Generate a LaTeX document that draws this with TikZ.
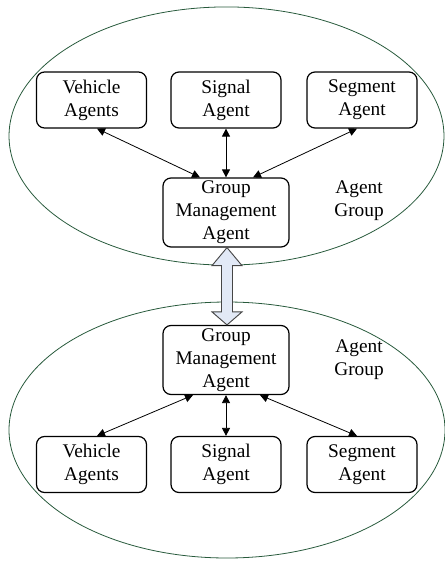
\documentclass[tikz,border=0pt]{standalone}
\usepackage{fontspec}
\setmainfont{Liberation Serif}
\usetikzlibrary{arrows.meta,calc}
\definecolor{groupline}{RGB}{40,90,60}
\definecolor{linkfill}{RGB}{226,233,246}
\definecolor{linkline}{RGB}{70,70,70}
\begin{document}
\begin{tikzpicture}[x=0.75pt,y=-0.75pt,
  agentbox/.style={draw=black,line width=0.9pt,rounded corners=6pt,fill=white,
    minimum width=82.5pt,minimum height=42pt,inner sep=0pt,align=center,
    font=\fontsize{14.5}{17.2}\selectfont},
  mgrbox/.style={agentbox,minimum width=94.5pt,minimum height=51.75pt},
  grouplabel/.style={align=center,inner sep=0pt,font=\fontsize{14.5}{17.2}\selectfont},
  groupring/.style={draw=groupline,line width=0.6pt},
  link/.style={line width=0.6pt,{Triangle[length=6pt,width=6pt]}-{Triangle[length=6pt,width=6pt]}}]
\useasboundingbox (0,0) rectangle (444,561);

% the two agent groups
\draw[groupring] (226.5,136) ellipse [x radius=163.1pt, y radius=96.8pt];
\draw[groupring] (227,430) ellipse [x radius=163.5pt, y radius=96pt];

% upper group
\node[agentbox] (vt) at (91.5,100) {Vehicle\\Agents};
\node[agentbox] (gt) at (226,100) {Signal\\Agent};
\node[agentbox] (st) at (362,100) {Segment\\Agent};
\node[mgrbox] (ma) at (226,212.5) {Group\\Management\\Agent};
\node[grouplabel] (la) at (359,201) {Agent\\Group};

% lower group
\node[mgrbox] (mb) at (226,360) {Group\\Management\\Agent};
\node[grouplabel] (lb) at (359,360) {Agent\\Group};
\node[agentbox] (vb) at (91.5,464.5) {Vehicle\\Agents};
\node[agentbox] (gb) at (226,464.5) {Signal\\Agent};
\node[agentbox] (sb) at (362,464.5) {Segment\\Agent};

% links inside the upper group
\draw[link] ($(vt.south)+(5.5,0)$) -- ($(ma.north)+(-26,0)$);
\draw[link] (gt.south) -- (ma.north);
\draw[link] ($(st.south)+(-5,0)$) -- ($(ma.north)+(27,0)$);

% links inside the lower group
\draw[link] ($(mb.south)+(-33,0)$) -- ($(vb.north)+(5.5,0)$);
\draw[link] (mb.south) -- (gb.north);
\draw[link] ($(mb.south)+(34,0)$) -- ($(sb.north)+(-5,0)$);

% block arrow between the two managers
\draw[draw=linkline,fill=linkfill,line width=0.7pt,line join=miter]
  ($(ma.south)+(1,0)$) -- ++(15,18) -- ++(-9.5,0) -- ($(mb.north)+(6.5,-13)$)
  -- ++(9.5,0) -- ($(mb.north)+(1,0)$) -- ++(-15,-13) -- ++(9.5,0)
  -- ($(ma.south)+(-4.5,18)$) -- ++(-9.5,0) -- cycle;
\end{tikzpicture}
\end{document}
